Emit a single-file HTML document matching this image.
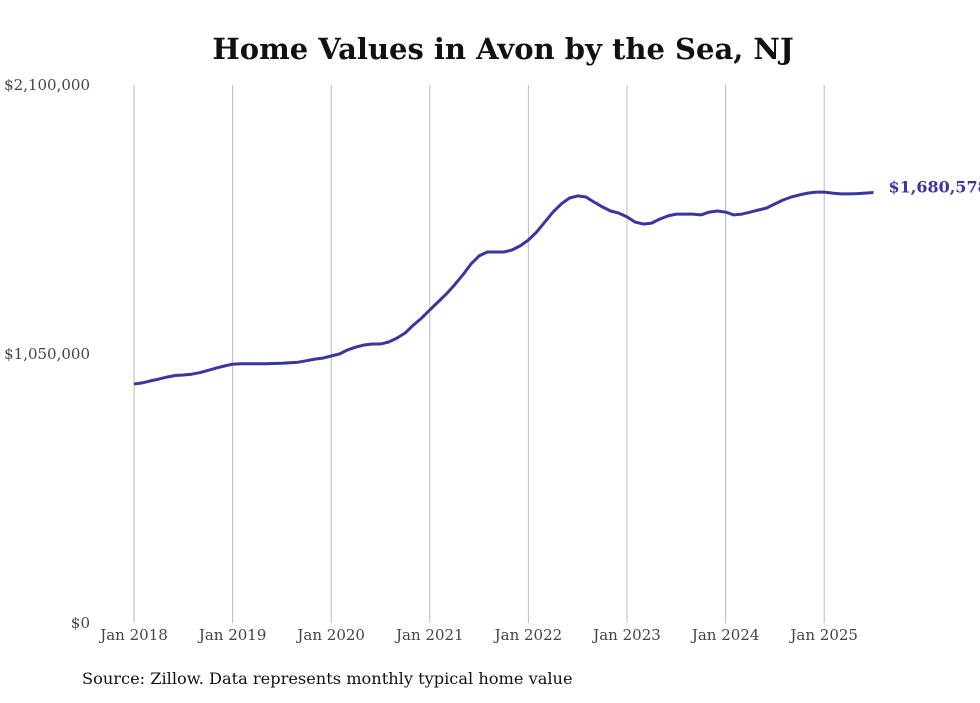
<!DOCTYPE html>
<html><head><meta charset="utf-8">
<style>
html,body{margin:0;padding:0;background:#fff;}
body{width:980px;height:699px;overflow:hidden;font-family:"DejaVu Serif","Liberation Serif",serif;}
</style></head>
<body>
<svg id="chart" width="980" height="699" xmlns="http://www.w3.org/2000/svg">
<text x="503" y="59" text-anchor="middle" font-family="DejaVu Serif, Liberation Serif, serif" font-weight="bold" font-size="29" fill="#111">Home Values in Avon by the Sea, NJ</text>
<g id="grid"></g>
<g id="yticks"></g>
<g id="xticks"></g>
<path id="line" fill="none" stroke="#3b35a0" stroke-width="3" stroke-linejoin="round"/>
<text id="endlabel" font-family="DejaVu Serif, Liberation Serif, serif" font-weight="bold" font-size="16" fill="#3b35a0"></text>
<text x="82" y="684" font-family="DejaVu Serif, Liberation Serif, serif" font-size="16.2" fill="#111">Source: Zillow. Data represents monthly typical home value</text>
</svg>
<script>
const yearLabels = ["Jan 2018","Jan 2019","Jan 2020","Jan 2021","Jan 2022","Jan 2023","Jan 2024","Jan 2025"];
const yTickValues = [0, 1050000, 2100000];
const yTickLabels = ["$0","$1,050,000","$2,100,000"];
// monthly values (thousands), Jan 2018 .. Jul 2025
const values2018 = [933,937,945,952,960,966,968,971,977,986,995,1003];
const values2019 = [1010,1012,1012,1012,1012,1013,1014,1016,1018,1024,1030,1034];
const values2020 = [1042,1050,1066,1077,1085,1089,1089,1097,1112,1132,1163,1190];
const values2021 = [1222,1253,1284,1319,1358,1401,1433,1448,1448,1448,1456,1472];
const values2022 = [1495,1526,1565,1604,1636,1659,1667,1663,1643,1624,1608,1600];
const values2023 = [1585,1565,1557,1561,1577,1589,1596,1596,1596,1593,1604,1608];
const values2024 = [1604,1593,1596,1604,1612,1620,1636,1651,1663,1671,1678,1682];
const values2025 = [1682,1678,1675,1675,1676,1678,1680.578];
const lastLabel = "$1,680,578";

const values = [].concat(values2018,values2019,values2020,values2021,values2022,values2023,values2024,values2025).map(v=>v*1000);
const NS="http://www.w3.org/2000/svg";
const x0=134, perMonth=98.6/12, yTop=85, yBot=623, yMax=2100000;
const xScale = m => x0 + m*perMonth;
const yScale = v => yBot - v/yMax*(yBot-yTop);

const grid=document.getElementById('grid'), xt=document.getElementById('xticks'), yt=document.getElementById('yticks');
yearLabels.forEach((lab,i)=>{
  const x=xScale(i*12);
  const l=document.createElementNS(NS,'line');
  
  
  l.setAttribute('x1',x);l.setAttribute('x2',x);l.setAttribute('y1',yTop);l.setAttribute('y2',yBot);
  l.setAttribute('stroke','#bbb');l.setAttribute('stroke-width','1');
  grid.appendChild(l);
  const t=document.createElementNS(NS,'text');
  
  
  t.setAttribute('x',x);t.setAttribute('y',640);t.setAttribute('text-anchor','middle');
  t.setAttribute('font-size','15');t.setAttribute('fill','#444');
  t.textContent=lab; xt.appendChild(t);
});
yTickValues.forEach((v,i)=>{
  const t=document.createElementNS(NS,'text');
  
  
  t.setAttribute('x',90);t.setAttribute('y',yScale(v)+5);t.setAttribute('text-anchor','end');
  t.setAttribute('font-size','15');t.setAttribute('fill','#444');
  t.textContent=yTickLabels[i]; yt.appendChild(t);
});
let d='';
values.forEach((v,i)=>{ d+=(i?'L':'M')+xScale(i).toFixed(1)+','+yScale(v).toFixed(1); });
document.getElementById('line').setAttribute('d',d);
const n=values.length-1;
const el=document.getElementById('endlabel');
el.setAttribute('x',xScale(n)+15);el.setAttribute('y',yScale(values[n]));
el.textContent=lastLabel;
</script>
</body></html>
